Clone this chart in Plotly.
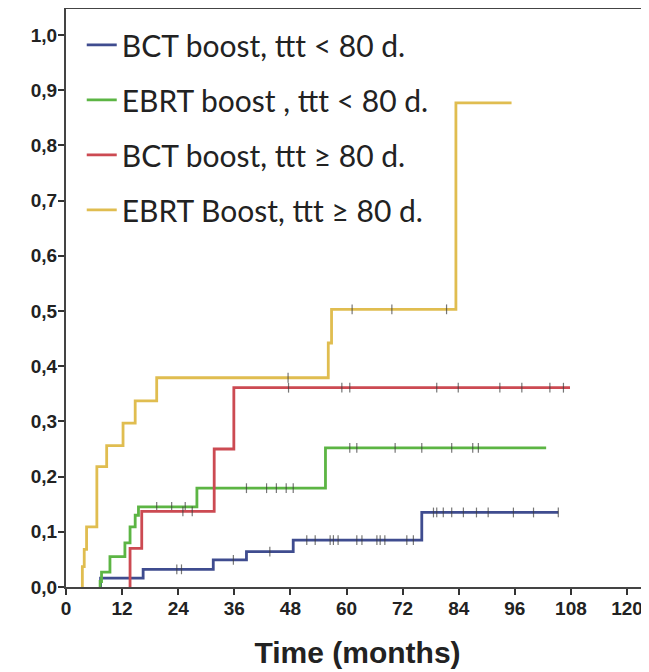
import plotly.graph_objects as go

# ---------------- data ----------------
series_names = [
    "BCT boost, ttt < 80 d.",
    "EBRT boost , ttt < 80 d.",
    "BCT boost, ttt \u2265 80 d.",
    "EBRT Boost, ttt \u2265 80 d.",
]
series_colors = ["#3f4c8f", "#5cb544", "#cc4a52", "#e0bd50"]

# event times (months) and cumulative incidence after each event
blue_t = [7.4, 16.5, 31.5, 38.6, 48.6, 76.1]
blue_y = [0.016, 0.032, 0.049, 0.064, 0.085, 0.135]
blue_end = 105.3
blue_cens = [23.7, 24.7, 35.8, 43.6, 51.5, 53.3, 56.5, 57.2, 58.2, 62.2, 63.3,
             66.5, 67.2, 68.2, 72.9, 74.3, 78.6, 79.3, 80.7, 82.5, 85.0, 87.8,
             90.3, 95.7, 100.0, 105.3]

green_t = [7.3, 7.6, 9.4, 12.6, 13.7, 14.8, 15.5, 28.0, 55.5]
green_y = [0.010, 0.027, 0.055, 0.080, 0.109, 0.130, 0.145, 0.179, 0.252]
green_end = 102.7
green_cens = [19.4, 22.6, 25.5, 38.6, 42.9, 45.0, 47.1, 48.6, 60.7, 62.2,
              70.4, 76.1, 82.5, 87.0, 88.2]

red_t = [13.7, 16.2, 31.7, 35.9]
red_y = [0.070, 0.137, 0.250, 0.361]
red_end = 107.8
red_cens = [25.0, 27.0, 47.6, 59.0, 60.7, 79.3, 83.9, 92.8, 97.5, 103.5, 106.4]

yellow_t = [3.5, 3.9, 4.4, 6.6, 8.7, 12.2, 14.8, 19.4, 56.1, 56.8, 83.4]
yellow_y = [0.037, 0.068, 0.109, 0.218, 0.256, 0.297, 0.337, 0.379, 0.442, 0.503, 0.877]
yellow_end = 95.3
yellow_cens = [47.5, 61.2, 69.7, 81.4]

x_tick_vals = [0, 12, 24, 36, 48, 60, 72, 84, 96, 108, 120]
y_tick_vals = [0.0, 0.1, 0.2, 0.3, 0.4, 0.5, 0.6, 0.7, 0.8, 0.9, 1.0]
y_tick_text = ["0,0", "0,1", "0,2", "0,3", "0,4", "0,5", "0,6", "0,7", "0,8", "0,9", "1,0"]
x_title = "Time (months)"


def step_xy(times, vals, end):
    xs = [times[0]]
    ys = [0.0]
    for t, v in zip(times, vals):
        xs.append(t)
        ys.append(v)
    xs.append(end)
    ys.append(vals[-1])
    return xs, ys


def value_at(times, vals, t):
    v = 0.0
    for tt, vv in zip(times, vals):
        if tt <= t:
            v = vv
    return v


all_series = [
    (blue_t, blue_y, blue_end, blue_cens),
    (green_t, green_y, green_end, green_cens),
    (red_t, red_y, red_end, red_cens),
    (yellow_t, yellow_y, yellow_end, yellow_cens),
]

fig = go.Figure()
for i, (ts, vs, end, cens) in enumerate(all_series):
    xs, ys = step_xy(ts, vs, end)
    fig.add_trace(go.Scatter(
        x=xs, y=ys, mode="lines", line_shape="hv",
        line=dict(color=series_colors[i], width=2.8),
        name=series_names[i], legendgroup=f"g{i}",
    ))
    fig.add_trace(go.Scatter(
        x=cens, y=[value_at(ts, vs, c) for c in cens], mode="markers",
        marker=dict(symbol="line-ns", size=7,
                    line=dict(color="rgba(60,60,60,0.7)", width=1.2)),
        showlegend=False, legendgroup=f"g{i}", hoverinfo="skip",
    ))

tick_font = dict(family="Liberation Sans", size=19, color="#222222", weight="bold")

fig.update_layout(
    width=641, height=664,
    margin=dict(l=58, r=0, t=1, b=85),
    paper_bgcolor="white", plot_bgcolor="white",
    showlegend=True,
    legend=dict(
        x=0.027, y=0.983, xanchor="left", yanchor="top",
        bgcolor="rgba(0,0,0,0)",
        font=dict(family="Lato", size=30, color="#222222"),
        tracegroupgap=13,
        itemwidth=30,
    ),
    xaxis=dict(
        range=[0, 124.7], tickvals=x_tick_vals, ticks="outside", ticklen=6,
        tickwidth=1.5, tickcolor="#333333",
        showline=True, linecolor="#444444", linewidth=2, mirror=True,
        showgrid=False, zeroline=False,
        tickfont=tick_font, ticklabelstandoff=-3,
        title=dict(text="<b>" + x_title + "</b>",
                   font=dict(family="Liberation Sans", size=30, color="#222222"),
                   standoff=24),
    ),
    yaxis=dict(
        range=[0, 1.047], tickvals=y_tick_vals, ticktext=y_tick_text,
        ticks="outside", ticklen=6, tickwidth=1.5, tickcolor="#333333",
        showline=True, linecolor="#444444", linewidth=2,
        showgrid=False, zeroline=False,
        tickfont=tick_font, ticklabelstandoff=-3,
    ),
)

fig.write_html("out.html")
